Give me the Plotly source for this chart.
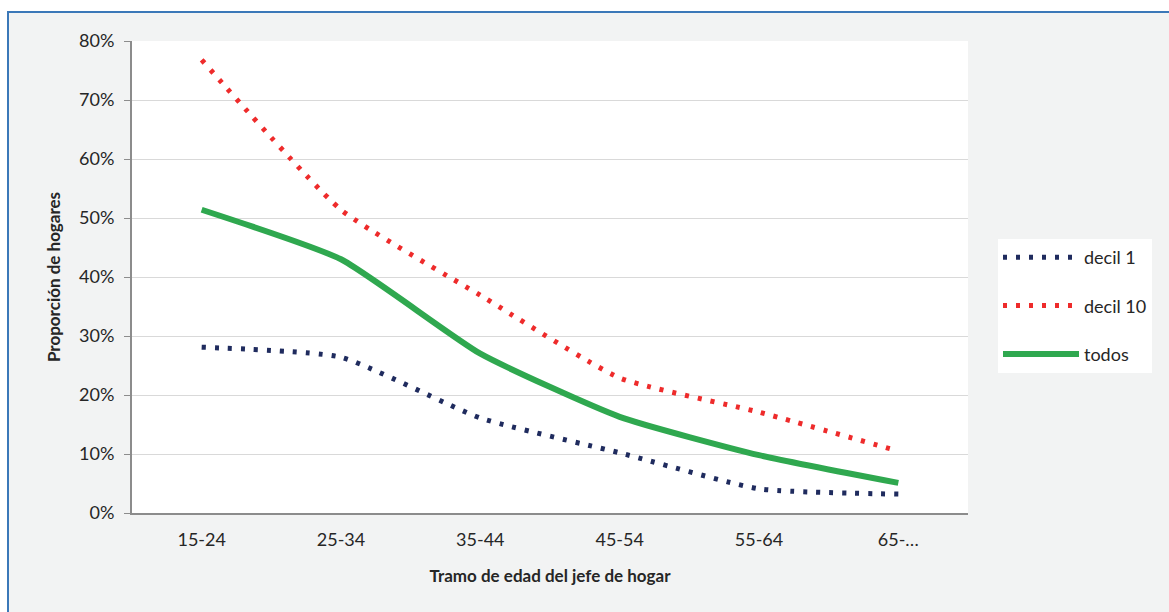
import plotly.graph_objects as go

categories = ["15-24", "25-34", "35-44", "45-54", "55-64", "65-…"]
decil_1 = [0.281, 0.264, 0.161, 0.102, 0.041, 0.032]
decil_10 = [0.768, 0.514, 0.369, 0.229, 0.171, 0.105]
todos = [0.514, 0.430, 0.270, 0.163, 0.098, 0.051]

FONT = "Lato"
W, H = 1169, 612
L, R, T, B = 132, 201, 41, 99
pw, ph = W - L - R, H - T - B

def px_x(x):
    return (x - L) / pw

def px_y(y):
    return (H - B - y) / ph

fig = go.Figure()
fig.add_trace(go.Scatter(x=categories, y=decil_1, name="decil 1", mode="lines",
                         line=dict(color="#1f2b5e", width=5, dash="4px,9px", shape="spline", smoothing=0.5),
                         legendgroup="a"))
fig.add_trace(go.Scatter(x=categories, y=decil_10, name="decil 10", mode="lines",
                         line=dict(color="#ee2b2b", width=5, dash="4px,9px", shape="spline", smoothing=0.5),
                         legendgroup="b"))
fig.add_trace(go.Scatter(x=categories, y=todos, name="todos", mode="lines",
                         line=dict(color="#2fa84f", width=6, shape="spline", smoothing=0.5),
                         legendgroup="c"))

fig.update_layout(
    width=W, height=H,
    margin=dict(l=L, r=R, t=T, b=B, autoexpand=False),
    paper_bgcolor="white",
    plot_bgcolor="white",
    font=dict(family=FONT, size=18, color="#262626"),
    showlegend=True,
    legend=dict(x=px_x(998), y=px_y(239), xanchor="left", yanchor="top",
                bgcolor="white", borderwidth=0, itemwidth=76,
                tracegroupgap=22, font=dict(size=18, color="#262626"),
                itemclick=False),
    xaxis=dict(range=[-0.5, 5.5], showgrid=False, showline=True, linecolor="#8c8c8c", linewidth=2,
               ticks="", tickfont=dict(size=18), fixedrange=True, ticklabelstandoff=9,
               title=dict(text="<b>Tramo de edad del jefe de hogar</b>", font=dict(size=17), standoff=22)),
    yaxis=dict(range=[0, 0.8], dtick=0.1, tickformat=".0%", showgrid=True,
               gridcolor="#d9d9d9", gridwidth=1, showline=True, linecolor="#8c8c8c",
               linewidth=2, ticks="outside", ticklen=6, tickcolor="#8c8c8c",
               tickfont=dict(size=18), zeroline=False, ticklabelstandoff=6, fixedrange=True,
               title=dict(text="<b>Proporción de hogares</b>", font=dict(size=17), standoff=14)),
    shapes=[
        dict(type="rect", xref="paper", yref="paper", layer="below",
             x0=px_x(8), x1=px_x(1200), y0=px_y(650), y1=px_y(12),
             fillcolor="#f2f3f3", line=dict(color="#3b78b8", width=2)),
        dict(type="rect", xref="paper", yref="paper", layer="below",
             x0=0, x1=1, y0=0, y1=1, fillcolor="white", line=dict(width=0)),
    ],
)

fig.write_html("out.html", config={"displayModeBar": False},
               post_script="document.body.style.margin='0';document.body.style.overflow='hidden';")
